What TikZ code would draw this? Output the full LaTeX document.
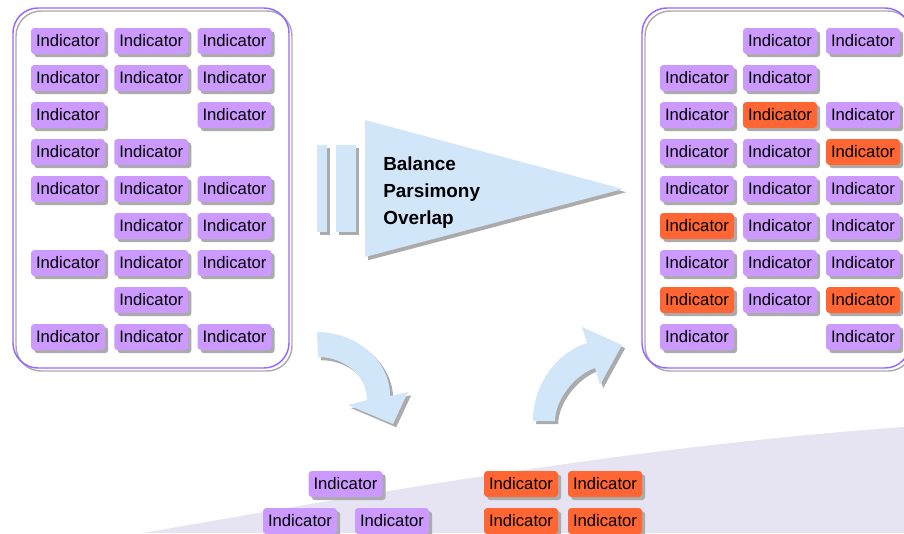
\documentclass[tikz,border=0pt]{standalone}
\usepackage{fontspec}
\setmainfont{Liberation Sans}
\usetikzlibrary{shadows}
\definecolor{ind}{HTML}{CC99FF}
\definecolor{hot}{HTML}{FF6633}
\definecolor{sky}{HTML}{D2E6FA}
\definecolor{shd}{HTML}{ABABAB}
\definecolor{panel}{HTML}{9966FF}
\definecolor{lav}{HTML}{E6E4F2}
\tikzset{
  shadowed/.style={drop shadow={shadow xshift=2.4pt, shadow yshift=-2.4pt, fill=shd, opacity=1}},
  indbox/.style={rounded corners=2.5pt, fill=ind, minimum width=55.5pt, minimum height=19.5pt,
    inner sep=0pt, font=\fontsize{12.5}{14}\selectfont, text=black, shadowed},
  hotbox/.style={indbox, fill=hot},
  panelline/.style={panel, line width=1.1pt, rounded corners=18.75pt},
  panelshade/.style={shd, line width=1.1pt, rounded corners=18.75pt},
  bigtext/.style={anchor=base west, inner sep=0pt, font=\fontsize{14.2}{17}\selectfont\bfseries, text=black},
}
\begin{document}
\begin{tikzpicture}[x=0.75pt, y=-0.75pt]
\useasboundingbox (0,0) rectangle (904,533);
\clip (0,0) rectangle (904,533);

% bottom lavender area
\fill[lav] (143,533) .. controls (400,488) and (650,445) .. (904,427) -- (904,533) -- cycle;

% panels
\draw[panelshade] (16,11) rectangle (292,371);
\draw[panelline] (13,8) rectangle (289,368);
\draw[panelshade] (645,11) rectangle (913,371);
\draw[panelline] (642,8) rectangle (910,368);

% left panel indicators
\foreach \c/\r in {1/1,2/1,3/1,1/2,2/2,3/2,1/3,3/3,1/4,2/4,1/5,2/5,3/5,2/6,3/6,1/7,2/7,3/7,2/8,1/9,2/9,3/9}
  \node[indbox] (L\c-\r) at ({68+83.25*(\c-1)}, {41+37*(\r-1)}) {Indicator};

% right panel indicators
\foreach \c/\r in {2/1,3/1,1/2,2/2,1/3,3/3,1/4,2/4,1/5,2/5,3/5,2/6,3/6,1/7,2/7,3/7,2/8,1/9,3/9}
  \node[indbox] (R\c-\r) at ({697+83*(\c-1)}, {41+37*(\r-1)}) {Indicator};
\foreach \c/\r in {2/3,3/4,1/6,1/8,3/8}
  \node[hotbox] (R\c-\r) at ({697+83*(\c-1)}, {41+37*(\r-1)}) {Indicator};

% bars and triangle
\fill[sky, shadowed] (317,145) rectangle (327,232);
\fill[sky, shadowed] (336,145) rectangle (356,232);
\fill[sky, shadowed] (365,120) -- (365,257) -- (623,189) -- cycle;
\node[bigtext] (t1) at (383,170) {Balance};
\node[bigtext] (t2) at (383,197) {Parsimony};
\node[bigtext] (t3) at (383,224) {Overlap};

% curved arrow down
\fill[sky, shadowed] (317,332) .. controls (357,332) and (390,361) .. (390,396)
  -- (408,392) -- (393,424) -- (348,405) -- (367,400)
  .. controls (367,376) and (345,357) .. (318,357) -- cycle;

% curved arrow up
\fill[sky, shadowed] (533,421) .. controls (533,383) and (558,352) .. (587,343)
  -- (582,327) -- (622,345) -- (600,385) -- (595,368)
  .. controls (576,374) and (555,399) .. (555,421) -- cycle;

% bottom indicators
\node[indbox] (B1) at (345.5,484) {Indicator};
\node[indbox] (B2) at (300,521) {Indicator};
\node[indbox] (B3) at (392,521) {Indicator};
\node[hotbox] (B4) at (521,484) {Indicator};
\node[hotbox] (B5) at (605,484) {Indicator};
\node[hotbox] (B6) at (521,521) {Indicator};
\node[hotbox] (B7) at (605,521) {Indicator};
\end{tikzpicture}
\end{document}
